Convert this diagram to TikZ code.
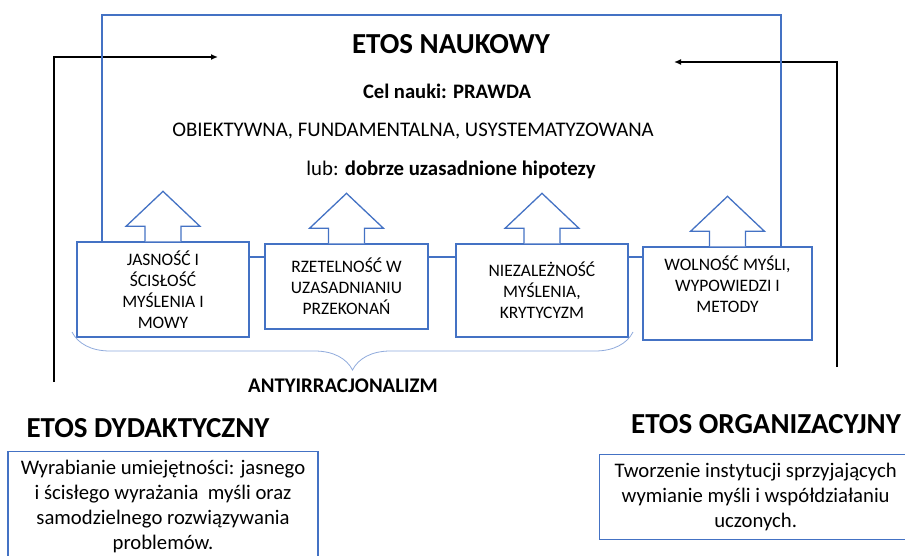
\documentclass[tikz,border=0pt]{standalone}
\usepackage{fontspec}
\setmainfont{Carlito}
\usetikzlibrary{arrows.meta, positioning, decorations.pathreplacing}
\definecolor{etosblue}{RGB}{68,114,196}
\definecolor{braceblue}{RGB}{143,170,220}

\begin{document}
\begin{tikzpicture}[
      x=1pt, y=-1pt, >={Latex[length=7pt,width=6pt]},
      bluebox/.style={draw=etosblue, line width=1.3pt},
      valuebox/.style={bluebox, fill=white, align=center, inner sep=0pt,
        font=\fontsize{17.5}{21}\selectfont},
      headline/.style={anchor=base, font=\fontsize{29}{34}\selectfont\bfseries},
      subline/.style={anchor=base, font=\fontsize{20.8}{24}\selectfont},
      goalbox/.style={bluebox, fill=white, align=center, font=\fontsize{20.7}{25}\selectfont},
      ]
      \clip (0,0) rectangle (905,556);

      % feedback arrows into the scientific ethos
      \coordinate (dydStart) at (54,382);
      \coordinate (naukL) at (218,57);
      \coordinate (orgStart) at (837,367);
      \coordinate (naukR) at (674,62);
      \draw[->, line width=1.4pt] (dydStart) |- (naukL);
      \draw[->, line width=1.4pt] (orgStart) |- (naukR);

      \draw[bluebox] (102,15) rectangle (781,257);

      \node[headline] (naukowy) at (451,54) {ETOS NAUKOWY};
      \node[subline, font=\fontsize{20.6}{24}\selectfont\bfseries] (cel) at (447,99) {Cel nauki: PRAWDA};
      \node[subline] (cechy) at (413,137) {OBIEKTYWNA, FUNDAMENTALNA, USYSTEMATYZOWANA};
      \node[subline] (hipotezy) at (451,176) {lub: \textbf{dobrze uzasadnione hipotezy}};

      % values
      \node[valuebox, minimum width=172pt, minimum height=95pt] (jasnosc) at (163,289.5)
        {JASNOŚĆ I\\ŚCISŁOŚĆ\\MYŚLENIA I\\MOWY};
      \node[valuebox, minimum width=163pt, minimum height=85pt] (rzetelnosc) at (346.5,286.5)
        {RZETELNOŚĆ W\\UZASADNIANIU\\PRZEKONAŃ};
      \node[valuebox, minimum width=172pt, minimum height=93pt] (niezaleznosc) at (542,290.5)
        {NIEZALEŻNOŚĆ\\MYŚLENIA,\\KRYTYCYZM};
      \node[valuebox, minimum width=169pt, minimum height=93pt] (wolnosc) at (727.5,293.5)
        {WOLNOŚĆ MYŚLI,\\WYPOWIEDZI I\\METODY\\[-8pt]\strut};

      \foreach \b in {jasnosc,rzetelnosc,niezaleznosc,wolnosc}
        \draw[bluebox, fill=white] (\b.north) ++(-18,0) -- ++(0,-15) -- ++(-19,0)
          -- ++(37,-35) -- ++(37,35) -- ++(-19,0) -- ++(0,15);

      \draw[braceblue, line width=0.8pt, decorate, decoration={brace, amplitude=38pt}]
        (633,332) -- (72,332);
      \node[subline, font=\fontsize{20.8}{24}\selectfont\bfseries] (antyirr) at (343,392) {ANTYIRRACJONALIZM};

      % the other two ethoses
      \node[headline] (dydaktyczny) at (148,437) {ETOS DYDAKTYCZNY};
      \node[headline] (organizacyjny) at (766,433) {ETOS ORGANIZACYJNY};

      \node[goalbox, anchor=north, minimum width=310pt, inner ysep=8pt] (wyrabianie) at (163,451)
        {Wyrabianie umiejętności: jasnego\\i ścisłego wyrażania\ \ myśli oraz\\samodzielnego rozwiązywania\\problemów.};
      \node[goalbox, anchor=north west, minimum width=312pt, minimum height=85pt] (tworzenie) at (599,454)
        {Tworzenie instytucji sprzyjających\\wymianie myśli i współdziałaniu\\uczonych.};
    \end{tikzpicture}
\end{document}
